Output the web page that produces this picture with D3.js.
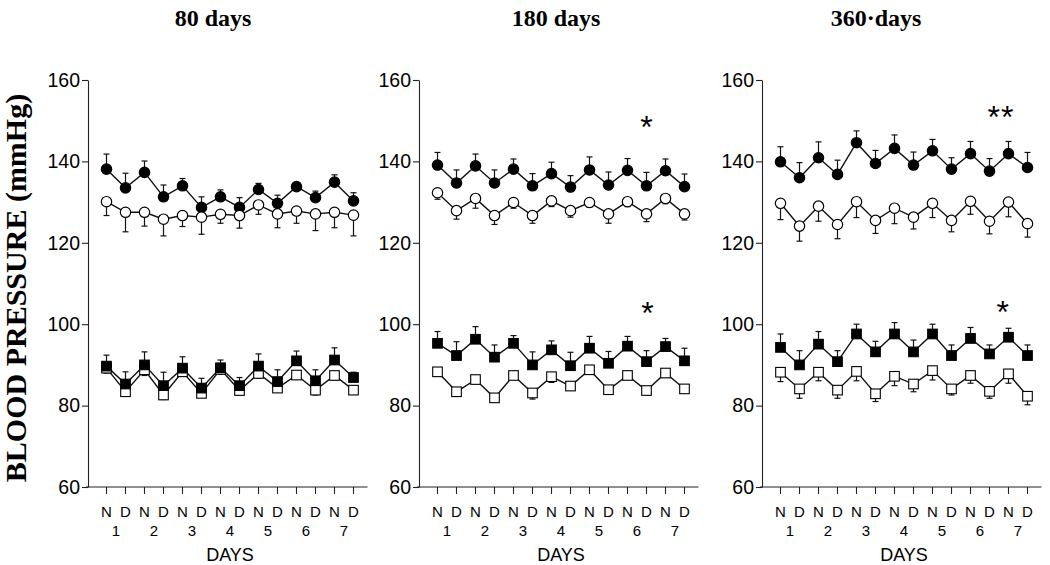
<!DOCTYPE html>
<html>
<head>
<meta charset="utf-8">
<script src="https://cdn.jsdelivr.net/npm/d3@7"></script>
<style>
  html, body { margin: 0; padding: 0; background: #fff; }
  svg { display: block; }
</style>
</head>
<body>
<svg id="chart" width="1050" height="565"></svg>
<script>
// ---------------- DATA ----------------
const periodLabels = ["N","D","N","D","N","D","N","D","N","D","N","D","N","D"];
const dayLabels = ["1","2","3","4","5","6","7"];
const yTicks = [60, 80, 100, 120, 140, 160];
const panelTitles = ["80 days", "180 days", "360\u00B7days"];
const yAxisTitle = "BLOOD PRESSURE (mmHg)";
const xAxisTitle = "DAYS";

// 80 days
const sysFilled80 = [138.1,133.5,137.3,131.3,134.0,128.7,131.3,128.7,133.1,129.7,133.8,131.1,134.9,130.3];
const sysFilledErr80 = [3.7,3.6,2.8,2.9,1.8,2.6,1.7,2.4,1.5,2.0,1.0,1.6,1.8,2.0];
const sysOpen80 = [130.1,127.5,127.5,125.8,126.7,126.3,127.0,126.7,129.3,127.1,127.8,127.1,127.5,126.8];
const sysOpenErr80 = [3.4,4.8,3.4,4.1,2.7,4.2,2.2,3.1,2.3,3.4,3.0,4.1,3.8,5.1];
const diaFilled80 = [89.7,85.3,90.0,84.9,89.2,84.3,89.3,84.9,89.7,85.9,91.0,86.1,91.2,86.9];
const diaFilledErr80 = [2.7,3.0,3.2,3.3,2.8,2.4,1.9,2.0,3.0,2.9,2.4,2.7,3.0,1.3];
const diaOpen80 = [89.2,83.4,88.8,82.6,88.3,83.0,88.9,83.7,87.9,84.3,87.5,83.8,87.4,83.8];
const diaOpenErr80 = [1.2,1.0,1.4,1.1,1.0,0.9,1.2,1.0,1.1,0.9,1.0,1.2,1.1,1.0];

// 180 days
const sysFilled180 = [139.1,134.7,138.9,134.7,138.1,134.0,137.0,133.7,137.9,134.2,137.8,134.0,137.7,133.8];
const sysFilledErr180 = [3.1,3.2,2.9,3.2,2.5,3.0,2.8,2.8,3.2,3.2,2.9,3.3,2.9,3.1];
const sysOpen180 = [132.3,127.9,130.9,126.7,129.9,126.7,130.3,127.9,129.9,127.1,130.1,127.1,130.9,127.1];
const sysOpenErr180 = [1.6,2.1,2.4,2.2,1.4,1.9,1.4,1.6,1.2,2.3,1.2,1.9,1.3,1.5];
const diaFilled180 = [95.3,92.3,96.3,91.9,95.3,90.0,93.7,89.8,94.1,90.4,94.6,90.8,94.5,91.0];
const diaFilledErr180 = [2.9,3.4,3.1,3.0,1.9,3.2,2.2,3.3,2.9,2.9,2.4,2.7,2.0,3.1];
const diaOpen180 = [88.3,83.4,86.4,81.9,87.4,83.1,87.1,84.8,88.8,83.9,87.4,83.7,88.0,84.1];
const diaOpenErr180 = [0.8,0.7,0.8,0.6,0.9,1.5,1.4,0.9,0.8,0.8,0.7,0.8,1.0,0.7];

// 360 days
const sysFilled360 = [139.9,136.0,140.9,136.8,144.6,139.5,143.2,139.1,142.6,138.1,141.9,137.6,141.9,138.5];
const sysFilledErr360 = [3.7,3.7,3.9,3.5,2.9,3.2,3.3,3.2,2.8,2.8,3.0,3.1,3.0,3.7];
const sysOpen360 = [129.7,124.1,129.0,124.5,130.1,125.5,128.5,126.3,129.7,125.5,130.2,125.3,130.0,124.7];
const sysOpenErr360 = [4.0,3.7,3.7,3.5,3.9,3.2,3.8,2.9,3.5,2.8,3.2,3.1,3.6,3.3];
const diaFilled360 = [94.3,90.0,95.1,90.8,97.6,93.2,97.6,93.2,97.6,92.3,96.5,92.7,96.8,92.3];
const diaFilledErr360 = [3.3,3.5,3.1,2.7,2.4,2.6,2.8,2.9,2.4,2.6,2.7,2.2,2.2,2.6];
const diaOpen360 = [88.2,84.1,88.2,83.8,88.4,82.9,87.2,85.3,88.6,84.1,87.4,83.5,87.8,82.3];
const diaOpenErr360 = [2.3,2.3,2.1,2.0,2.3,1.9,2.3,1.9,2.3,1.5,1.9,1.7,2.3,2.1];

// significance marks: [label, x index, y value]
const marks80 = [];
const marks180 = [["*", 11, 150.0], ["*", 11.05, 104.2]];
const marks360 = [["**", 11.6, 152.3], ["*", 11.7, 104.4]];

// ---------------- LAYOUT ----------------
const svg = d3.select("#chart");
const axisXs = [88, 419, 762];
const titleXs = [213, 556, 876];
const step = 19;
const firstOffset = 18.5;
const yTop = 80, yBottom = 487;

const panels = [
  { title: panelTitles[0], marks: marks80, series: [
    { v: sysFilled80, e: sysFilledErr80, shape: "circle", filled: true },
    { v: sysOpen80, e: sysOpenErr80, shape: "circle", filled: false },
    { v: diaOpen80, e: diaOpenErr80, shape: "square", filled: false },
    { v: diaFilled80, e: diaFilledErr80, shape: "square", filled: true } ] },
  { title: panelTitles[1], marks: marks180, series: [
    { v: sysFilled180, e: sysFilledErr180, shape: "circle", filled: true },
    { v: sysOpen180, e: sysOpenErr180, shape: "circle", filled: false },
    { v: diaFilled180, e: diaFilledErr180, shape: "square", filled: true },
    { v: diaOpen180, e: diaOpenErr180, shape: "square", filled: false } ] },
  { title: panelTitles[2], marks: marks360, series: [
    { v: sysFilled360, e: sysFilledErr360, shape: "circle", filled: true },
    { v: sysOpen360, e: sysOpenErr360, shape: "circle", filled: false },
    { v: diaFilled360, e: diaFilledErr360, shape: "square", filled: true },
    { v: diaOpen360, e: diaOpenErr360, shape: "square", filled: false } ] }
];

const y = d3.scaleLinear().domain([60, 160]).range([yBottom, yTop]);

// y axis title
svg.append("text")
  .attr("transform", "translate(26,288) rotate(-90)")
  .attr("text-anchor", "middle")
  .attr("font-family", "'Liberation Serif', 'Times New Roman', serif")
  .attr("font-weight", "bold")
  .attr("font-size", 30)
  .attr("fill", "#000")
  .text(yAxisTitle);

panels.forEach((p, pi) => {
  const ax = axisXs[pi];
  const x = d3.scaleLinear().domain([0, 13]).range([ax + firstOffset, ax + firstOffset + 13 * step]);
  const g = svg.append("g");

  // title
  g.append("text")
    .attr("x", titleXs[pi]).attr("y", 26)
    .attr("text-anchor", "middle")
    .attr("font-family", "'Liberation Serif', 'Times New Roman', serif")
    .attr("font-weight", "bold")
    .attr("font-size", 24)
    .attr("fill", "#000")
    .text(p.title);

  // y axis
  const yAxis = d3.axisLeft(y).tickValues(yTicks).tickSize(6).tickSizeOuter(0).tickPadding(2)
    .tickFormat(d3.format("d"));
  const yg = g.append("g").attr("transform", `translate(${ax},0)`).call(yAxis);
  yg.selectAll("text")
    .attr("font-family", "'Liberation Sans', Arial, sans-serif")
    .attr("font-size", 19.5).attr("fill", "#000");
  yg.selectAll("line, path").attr("stroke", "#222").attr("stroke-width", 1.1);

  // x axis
  const xEnd = x(13) + 14;
  g.append("line").attr("x1", ax - 2).attr("x2", xEnd)
    .attr("y1", yBottom).attr("y2", yBottom)
    .attr("stroke", "#222").attr("stroke-width", 1.1);
  g.selectAll(".xtick").data(periodLabels).enter().append("line")
    .attr("x1", (d, i) => x(i)).attr("x2", (d, i) => x(i))
    .attr("y1", yBottom).attr("y2", yBottom + 7)
    .attr("stroke", "#222").attr("stroke-width", 1.1);
  g.selectAll(".xlab").data(periodLabels).enter().append("text")
    .attr("x", (d, i) => x(i)).attr("y", 517)
    .attr("text-anchor", "middle")
    .attr("font-family", "'Liberation Sans', Arial, sans-serif")
    .attr("font-size", 15).attr("fill", "#000")
    .text(d => d);
  g.selectAll(".daylab").data(dayLabels).enter().append("text")
    .attr("x", (d, i) => x(2 * i + 0.5)).attr("y", 536)
    .attr("text-anchor", "middle")
    .attr("font-family", "'Liberation Sans', Arial, sans-serif")
    .attr("font-size", 15).attr("fill", "#000")
    .text(d => d);
  g.append("text")
    .attr("x", x(6.5)).attr("y", 561)
    .attr("text-anchor", "middle")
    .attr("font-family", "'Liberation Sans', Arial, sans-serif")
    .attr("font-size", 18).attr("fill", "#000")
    .text(xAxisTitle);

  const line = d3.line().x((d, i) => x(i)).y(d => y(d));

  // lines + error bars
  p.series.forEach(s => {
    g.append("path").datum(s.v).attr("d", line)
      .attr("fill", "none").attr("stroke", "#111").attr("stroke-width", 1.4);
    const dir = s.filled ? 1 : -1;
    const eg = g.append("g").attr("stroke", "#111").attr("stroke-width", 1.2);
    s.v.forEach((v, i) => {
      const yEnd = y(v + dir * s.e[i]);
      eg.append("line").attr("x1", x(i)).attr("x2", x(i)).attr("y1", y(v)).attr("y2", yEnd);
      eg.append("line").attr("x1", x(i) - 3).attr("x2", x(i) + 3).attr("y1", yEnd).attr("y2", yEnd);
    });
  });

  // markers
  p.series.forEach(s => {
    const mg = g.append("g");
    if (s.shape === "circle") {
      mg.selectAll("circle").data(s.v).enter().append("circle")
        .attr("cx", (d, i) => x(i)).attr("cy", d => y(d)).attr("r", 5.2)
        .attr("fill", s.filled ? "#000" : "#fff")
        .attr("stroke", "#000").attr("stroke-width", 1.2);
    } else {
      const sz = 9.6;
      mg.selectAll("rect").data(s.v).enter().append("rect")
        .attr("x", (d, i) => x(i) - sz / 2).attr("y", d => y(d) - sz / 2)
        .attr("width", sz).attr("height", sz)
        .attr("fill", s.filled ? "#000" : "#fff")
        .attr("stroke", "#000").attr("stroke-width", 1.1);
    }
  });

  // significance marks
  p.marks.forEach(m => {
    g.append("text")
      .attr("x", x(m[1])).attr("y", y(m[2]) + 17)
      .attr("text-anchor", "middle")
      .attr("font-family", "'Liberation Sans', Arial, sans-serif")
      .attr("font-size", 32).attr("fill", "#000")
      .attr("letter-spacing", m[0].length > 1 ? 1 : 0)
      .text(m[0]);
  });
});
</script>
</body>
</html>
